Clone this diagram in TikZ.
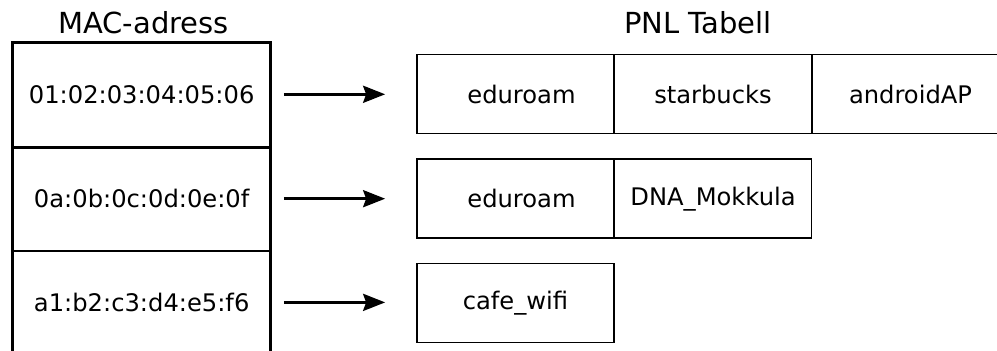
\documentclass[tikz,border=0pt]{standalone}
\usepackage{fontspec}
\setmainfont{DejaVu Sans}
\usetikzlibrary{arrows.meta}

\begin{document}
\begin{tikzpicture}[x=0.5pt,y=-0.5pt,
  title/.style={font=\fontsize{14.5pt}{17pt}\selectfont, anchor=base, inner sep=0pt},
  mcell/.style={minimum width=128.5pt, minimum height=51.85pt, inner sep=0pt,
    font=\fontsize{12.1pt}{14pt}\selectfont},
  pcell/.style={draw, line width=0.85pt, minimum width=98.5pt, minimum height=39.5pt,
    inner sep=0pt, font=\fontsize{12.1pt}{14pt}\selectfont},
  frame/.style={line width=1.35pt},
  arr/.style={line width=1.5pt, -{Stealth[length=11pt,width=8.5pt,inset=1.5pt]},
    shorten <=6.65pt, shorten >=15.5pt}]
\useasboundingbox (0,0) rectangle (997,351);
\clip (0,0) rectangle (997,351);

% column headings
\node[title] (tmac) at (143.5,33.3) {MAC-adress};
\node[title] (tpnl) at (698,33.3) {PNL Tabell};

% MAC address column
\node[mcell] (m1) at (141.7,95.0) {01:02:03:04:05:06};
\node[mcell] (m2) at (141.7,198.7) {0a:0b:0c:0d:0e:0f};
\node[mcell] (m3) at (141.7,302.4) {a1:b2:c3:d4:e5:f6};
\draw[frame] (m3.south west) -- (m1.north west) -- (m1.north east) -- (m3.south east);
\draw[frame] (m1.south west) -- (m1.south east);
\draw[frame] (m2.south west) -- (m2.south east);

% PNL table rows
\node[pcell] (p1a) at (515.5,94.0) {\hspace*{6pt}eduroam};
\node[pcell] (p1b) at (713.0,94.0) {starbucks};
\node[pcell] (p1c) at (910.5,94.0) {androidAP};
\node[pcell] (p2a) at (515.5,198.7) {\hspace*{6pt}eduroam};
\node[pcell] (p2b) at (713.0,198.7) {DNA\_Mokkula};
\node[pcell] (p3a) at (515.5,303.0) {cafe\_wifi};

% mapping arrows
\draw[arr] ([yshift=0.35pt]m1.east) -- ([yshift=0.35pt]p1a.west |- m1.east);
\draw[arr] (m2.east) -- (p2a.west |- m2.east);
\draw[arr] (m3.east) -- (p3a.west |- m3.east);
\end{tikzpicture}
\end{document}
